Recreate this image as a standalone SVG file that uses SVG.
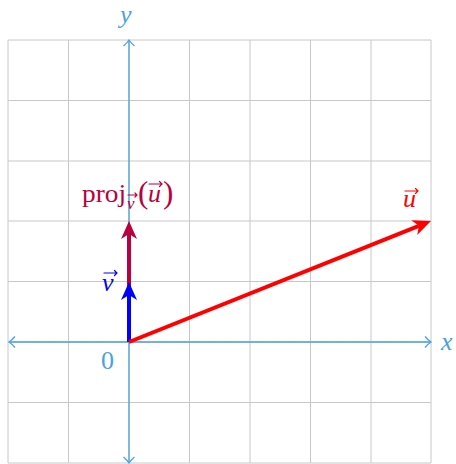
<svg xmlns="http://www.w3.org/2000/svg" width="456" height="464" viewBox="0 0 456 464">
<style>
.grid{stroke:#c8c8c8;stroke-width:1;fill:none}
.axis{stroke:#4aa3df;stroke-width:1.3;fill:none}
.lbl{font-family:"Liberation Serif","DejaVu Serif",serif;font-style:italic;font-size:26px}
.rm{font-family:"Liberation Serif","DejaVu Serif",serif;font-size:26px}
.it{font-style:italic}
.par{font-size:31px}
.sub{font-style:italic;font-size:17px}
.acc{fill:none;stroke-width:1.2;stroke-linecap:round}
</style>
<defs>
<marker id="hu" viewBox="-20 -10 22 20" markerWidth="22" markerHeight="20" refX="-13" refY="0" orient="auto" markerUnits="userSpaceOnUse"><path d="M-18,-8 L0,0 L-18,8 L-13,0 Z" fill="#ff0000"/></marker>
<marker id="hv" viewBox="-20 -10 22 20" markerWidth="22" markerHeight="20" refX="-13" refY="0" orient="auto" markerUnits="userSpaceOnUse"><path d="M-18,-8 L0,0 L-18,8 L-13,0 Z" fill="#0000ff"/></marker>
<marker id="hp" viewBox="-20 -10 22 20" markerWidth="22" markerHeight="20" refX="-13" refY="0" orient="auto" markerUnits="userSpaceOnUse"><path d="M-18,-8 L0,0 L-18,8 L-13,0 Z" fill="#b8003f"/></marker>
</defs>
<g id="grid">
<path class="grid" d="M8,40V463M68.5,40V463M129,40V463M189.5,40V463M250,40V463M310.5,40V463M371,40V463M431,40V463M8,40H431M8,100.5H431M8,161H431M8,221H431M8,281.5H431M8,342H431M8,402.5H431M8,463H431"/>
</g>
<g id="axes">
<path class="axis" d="M9,342H431M129,40V463"/>
<path class="axis" d="M425,336.5Q428,340 431,342Q428,344 425,347.5M15,336.5Q12,340 9,342Q12,344 15,347.5M123.5,46Q127,43 129,40Q131,43 134.5,46M123.5,457Q127,460 129,463Q131,460 134.5,457"/>
<text class="lbl" x="441" y="350" fill="#4aa3df">x</text>
<text class="lbl" x="120" y="23" fill="#4aa3df">y</text>
<text class="rm" x="101" y="369" fill="#4aa3df">0</text>
</g>
<g id="connectors">
<line x1="129" y1="342" x2="129" y2="234" stroke="#b8003f" stroke-width="4" marker-end="url(#hp)"/>
<line x1="129" y1="342" x2="129" y2="295" stroke="#0000ff" stroke-width="4" marker-end="url(#hv)"/>
<line x1="129" y1="342" x2="418.9" y2="225.8" stroke="#ff0000" stroke-width="4" marker-end="url(#hu)"/>
</g>
<g id="label-u" fill="#ff0000">
<text class="lbl" x="403" y="207">u</text>
<path class="acc" stroke="#ff0000" d="M405,191H418M415.5,188.5L418,191L415.5,193.5"/>
</g>
<g id="label-v" fill="#0000ff">
<text class="lbl" x="102" y="291">v</text>
<path class="acc" stroke="#0000ff" d="M104,273H117M114.5,270.5L117,273L114.5,275.5"/>
</g>
<g id="label-proj" fill="#b8003f">
<text class="rm" y="202"><tspan x="82" textLength="44" lengthAdjust="spacingAndGlyphs">proj</tspan><tspan class="sub" x="127" y="209">v</tspan><tspan class="par" x="138" y="203">(</tspan><tspan class="it" x="148" y="202">u</tspan><tspan class="par" x="163" y="203">)</tspan></text>
<path class="acc" stroke="#b8003f" d="M128,195H137M135,193L137,195L135,197"/>
<path class="acc" stroke="#b8003f" d="M149,184H162M159.5,181.5L162,184L159.5,186.5"/>
</g>
</svg>
